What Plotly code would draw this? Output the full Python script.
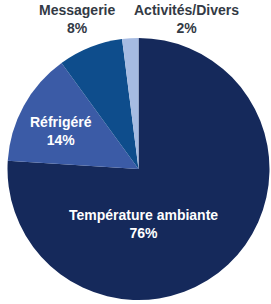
import plotly.graph_objects as go

categories = ["Température ambiante", "Réfrigéré", "Messagerie", "Activités/Divers"]
values = [76, 14, 8, 2]
colors = ["#15295b", "#3b5ba6", "#0e4d8c", "#a6bbe2"]

# label anchor positions (paper coords) and colours
label_pos = {
    "Température ambiante": (0.517, 0.29, "white"),
    "Réfrigéré": (0.2075, 0.645, "white"),
    "Messagerie": (0.268, 1.0725, "#333a45"),
    "Activités/Divers": (0.683, 1.0725, "#333a45"),
}

fig = go.Figure(go.Pie(
    labels=categories,
    values=values,
    sort=False,
    direction="clockwise",
    rotation=0,
    marker=dict(colors=colors, line=dict(width=0)),
    textinfo="none",
    hoverinfo="label+percent",
    showlegend=False,
))

for cat, val in zip(categories, values):
    x, y, c = label_pos[cat]
    fig.add_annotation(
        x=x, y=y, xref="paper", yref="paper",
        xanchor="center", yanchor="middle",
        text=f"<b>{cat}<br>{val}%</b>",
        showarrow=False,
        font=dict(family="Liberation Sans, Arial, sans-serif", size=14, color=c),
        align="center",
    )

fig.update_layout(
    width=271, height=304,
    margin=dict(l=6, r=0, t=38, b=4),
    paper_bgcolor="white",
    plot_bgcolor="white",
)

fig.write_html("out.html", config={"displayModeBar": False},
               post_script="document.body.style.margin='0';")
